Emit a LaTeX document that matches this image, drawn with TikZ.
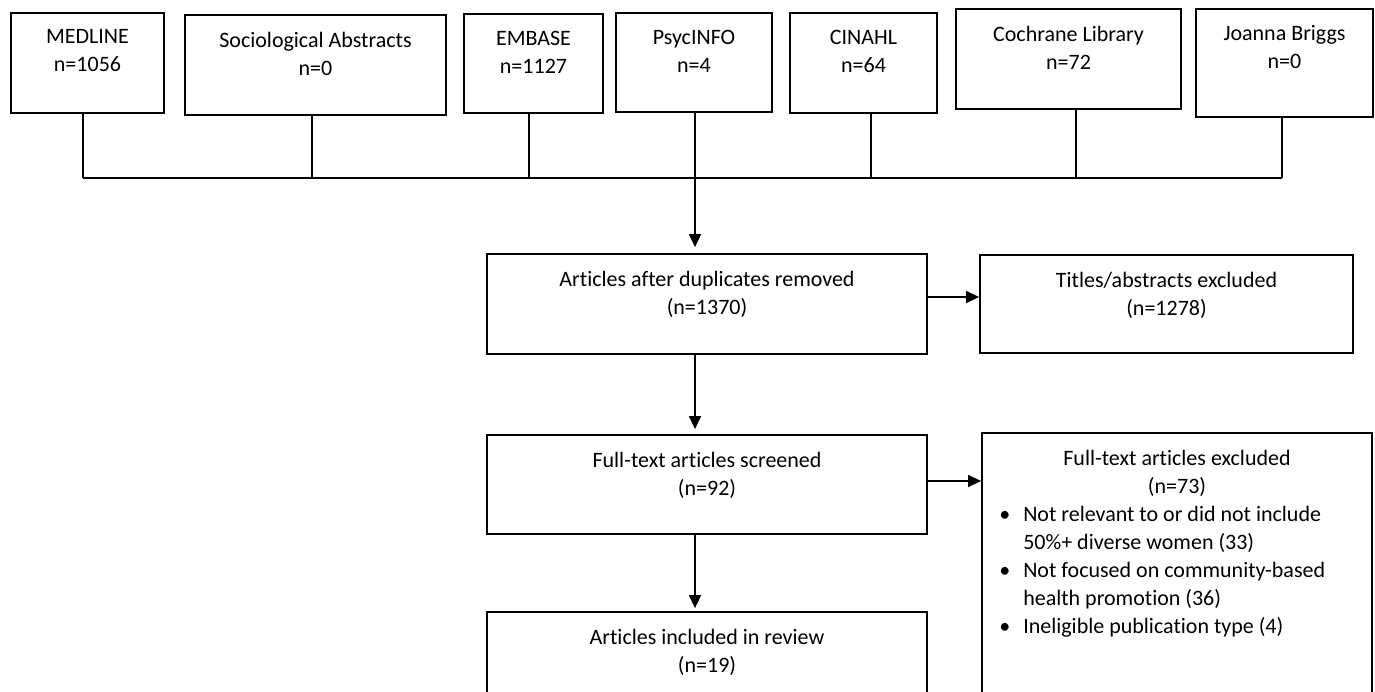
\documentclass[tikz,border=0pt]{standalone}
\usepackage{fontspec}
\setmainfont{Carlito}[Ligatures=NoCommon]
\usetikzlibrary{arrows.meta}

\tikzset{
  dbbox/.style={draw, line width=1.8pt, inner sep=0pt},
  boxlabel/.style={anchor=north, align=center, inner sep=0pt, yshift=-17.5pt,
    font=\fontsize{22}{28}\selectfont},
  bulletlist/.style={anchor=north west, inner sep=0pt, xshift=18pt, yshift=-70pt,
    font=\fontsize{22}{28}\selectfont},
  link/.style={line width=1.4pt},
  arr/.style={line width=1.4pt, -{Triangle[length=13pt,width=12pt]}},
}

\begin{document}
\begin{tikzpicture}[x=1pt, y=-1pt]
\clip (0,0) rectangle (1375,692);
% databases
\node[dbbox, minimum width=153pt, minimum height=100pt, label={[boxlabel]north:MEDLINE\\n=1056}] (medline) at (87.5,63) {};
\node[dbbox, minimum width=261pt, minimum height=100pt, label={[boxlabel]north:Sociological Abstracts\\n=0}] (socio) at (315.5,65) {};
\node[dbbox, minimum width=139pt, minimum height=99pt, label={[boxlabel]north:EMBASE\\n=1127}] (embase) at (533.5,63.5) {};
\node[dbbox, minimum width=156pt, minimum height=99pt, label={[boxlabel]north:PsycINFO\\n=4}] (psyc) at (694,62.5) {};
\node[dbbox, minimum width=147pt, minimum height=100pt, label={[boxlabel]north:CINAHL\\n=64}] (cinahl) at (863.5,63) {};
\node[dbbox, minimum width=225pt, minimum height=100pt, label={[boxlabel]north:Cochrane Library\\n=72}] (cochrane) at (1068.5,59) {};
\node[dbbox, minimum width=177pt, minimum height=108pt, label={[boxlabel]north:Joanna Briggs\\n=0}] (joanna) at (1284.5,63) {};

% screening
\node[dbbox, minimum width=440pt, minimum height=100pt, label={[boxlabel]north:Articles after duplicates removed\\(n=1370)}] (art) at (707,304) {};
\node[dbbox, minimum width=373pt, minimum height=98pt, label={[boxlabel]north:Titles/abstracts excluded\\(n=1278)}] (titles) at (1166.5,304) {};
\node[dbbox, minimum width=440pt, minimum height=99pt, label={[boxlabel]north:Full-text articles screened\\(n=92)}] (screen) at (707,484.5) {};
\node[dbbox, minimum width=440pt, minimum height=100pt, label={[boxlabel]north:Articles included in review\\(n=19)}] (incl) at (707,662) {};
\node[dbbox, minimum width=390pt, minimum height=290pt,
  label={[boxlabel]north:Full-text articles excluded\\(n=73)},
  label={[bulletlist]north west:{\begin{tabular}{@{}l@{\hspace{13pt}}l@{}}
    \textbullet & Not relevant to or did not include\\
                & 50\%+ diverse women (33)\\
    \textbullet & Not focused on community-based\\
                & health promotion (36)\\
    \textbullet & Ineligible publication type (4)
  \end{tabular}}}] (fullex) at (1177,578) {};

% joining line
\coordinate (b1) at (83,178);
\coordinate (b2) at (312,178);
\coordinate (b3) at (529,178);
\coordinate (b4) at (695,178);
\coordinate (b5) at (871,178);
\coordinate (b6) at (1076,178);
\coordinate (b7) at (1282,178);
\draw[link] (b1 |- medline.south) -- (b1);
\draw[link] (b2 |- socio.south) -- (b2);
\draw[link] (b3 |- embase.south) -- (b3);
\draw[link] (b5 |- cinahl.south) -- (b5);
\draw[link] (b6 |- cochrane.south) -- (b6);
\draw[link] (b7 |- joanna.south) -- (b7);
\draw[link] (b1) -- (b7);

% arrows
\draw[arr, shorten >=6pt] (b4 |- psyc.south) -- (b4 |- art.north);
\draw[arr, shorten >=5pt] (b4 |- art.south) -- (b4 |- screen.north);
\draw[arr, shorten >=3pt] (b4 |- screen.south) -- (b4 |- incl.north);
\draw[arr] ([yshift=7pt]art.east) -- ([yshift=7pt]art.east -| titles.west);
\draw[arr] ([yshift=3.5pt]screen.east) -- ([yshift=3.5pt]screen.east -| fullex.west);
\end{tikzpicture}
\end{document}
